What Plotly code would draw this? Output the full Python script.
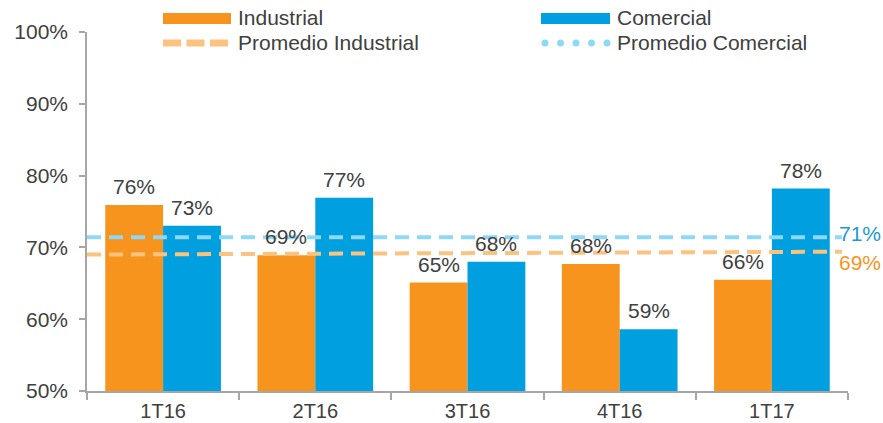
import plotly.graph_objects as go

# Quarterly values (%)
categorias = ["1T16", "2T16", "3T16", "4T16", "1T17"]
industrial = [75.9, 68.9, 65.1, 67.7, 65.5]
comercial = [73.0, 76.9, 68.0, 58.6, 78.2]

# Average reference lines (start / end of the period span)
promedio_x = [-0.5, 4.46]
promedio_industrial = [69.0, 69.4]
promedio_comercial = [71.4, 71.4]

y_ticks = [50, 60, 70, 80, 90, 100]

NARANJA = "#F7941D"
AZUL = "#009FDF"
NARANJA_CLARO = "#FCC27F"
AZUL_CLARO = "#8FD8F8"
TEXTO = "#404040"
EJE = "#A6A6A6"
FUENTE = "Liberation Sans, Arial, sans-serif"
TAM = 21

W, H = 883, 423
ML, MR, MT, MB = 87, 35, 32, 32
PW, PH = W - ML - MR, H - MT - MB


def px(x):
    return (x - ML) / PW


def py(y):
    return (H - MB - y) / PH


xs = list(range(len(categorias)))
desfase = 0.19  # half a bar width in category units

fig = go.Figure()
fig.add_trace(go.Bar(x=xs, y=industrial, name="Industrial",
                     marker_color=NARANJA, marker_line_width=0))
fig.add_trace(go.Bar(x=xs, y=comercial, name="Comercial",
                     marker_color=AZUL, marker_line_width=0))

# Value labels above each bar
for serie, signo in [(industrial, -1), (comercial, 1)]:
    for x, v in zip(xs, serie):
        fig.add_annotation(x=x + signo * desfase, y=v, text=f"{v:.0f}%",
                           showarrow=False, xanchor="center", yanchor="bottom",
                           yshift=5, font=dict(size=TAM, color=TEXTO, family=FUENTE))

fig.add_trace(go.Scatter(
    x=promedio_x, y=promedio_comercial, mode="lines", name="Promedio Comercial",
    line=dict(color=AZUL_CLARO, width=4, dash="14px,8px"), cliponaxis=False,
))
fig.add_trace(go.Scatter(
    x=promedio_x, y=promedio_industrial, mode="lines", name="Promedio Industrial",
    line=dict(color=NARANJA_CLARO, width=4, dash="14px,8px"), cliponaxis=False,
))

# End-of-line average labels
fig.add_annotation(x=promedio_x[-1], y=promedio_comercial[-1],
                   text=f"{promedio_comercial[-1]:.0f}%", showarrow=False,
                   xanchor="left", yanchor="middle", xshift=-5, yshift=4,
                   font=dict(size=TAM, color="#1A9AD6", family=FUENTE))
fig.add_annotation(x=promedio_x[-1], y=promedio_industrial[-1],
                   text=f"{promedio_industrial[-1]:.0f}%", showarrow=False,
                   xanchor="left", yanchor="middle", xshift=-5, yshift=-11,
                   font=dict(size=TAM, color=NARANJA, family=FUENTE))

# Legend drawn above the plot area
shapes = []
shapes.append(dict(type="rect", xref="paper", yref="paper",
                   x0=px(163), x1=px(231), y0=py(24), y1=py(13),
                   fillcolor=NARANJA, line_width=0))
shapes.append(dict(type="rect", xref="paper", yref="paper",
                   x0=px(541), x1=px(610), y0=py(24), y1=py(13),
                   fillcolor=AZUL, line_width=0))
for i in range(3):
    x0 = 163 + i * 23.5
    shapes.append(dict(type="rect", xref="paper", yref="paper",
                       x0=px(x0), x1=px(x0 + 18), y0=py(46.5), y1=py(39.5),
                       fillcolor=NARANJA_CLARO, line_width=0))
for i in range(5):
    cx = 545 + i * 15.5
    shapes.append(dict(type="circle", xref="paper", yref="paper",
                       x0=px(cx - 3.5), x1=px(cx + 3.5), y0=py(46.5), y1=py(39.5),
                       fillcolor=AZUL_CLARO, line_width=0))
fig.update_layout(shapes=shapes)

for texto, x, y in [("Industrial", 236, 18), ("Comercial", 615, 18),
                    ("Promedio Industrial", 236, 42), ("Promedio Comercial", 615, 42)]:
    fig.add_annotation(xref="paper", yref="paper", x=px(x), y=py(y), text=texto,
                       showarrow=False, xanchor="left", yanchor="middle",
                       font=dict(size=TAM, color=TEXTO, family=FUENTE))

fig.update_layout(
    width=W, height=H,
    margin=dict(l=ML, r=MR, t=MT, b=MB, autoexpand=False),
    paper_bgcolor="white", plot_bgcolor="white",
    barmode="group", bargap=0.24, bargroupgap=0,
    showlegend=False,
    font=dict(family=FUENTE, size=TAM, color=TEXTO),
)
fig.update_xaxes(
    range=[-0.5, 4.5], tickvals=xs, ticktext=categorias, ticks="",
    showline=True, linecolor=EJE, linewidth=1.5, showgrid=False, zeroline=False,
    ticklabelstandoff=1, automargin=False,
    minor=dict(tickvals=[i - 0.5 for i in range(len(categorias) + 1)],
               ticks="outside", ticklen=7, tickcolor=EJE, tickwidth=1.5, showgrid=False),
    tickfont=dict(size=20, color=TEXTO),
)
fig.update_yaxes(
    range=[50, 100], tickvals=y_ticks, ticktext=[f"{v}%" for v in y_ticks],
    ticks="outside", ticklen=6, tickcolor=EJE, tickwidth=1.5,
    showline=True, linecolor=EJE, linewidth=1.5, showgrid=False, zeroline=False,
    ticklabelstandoff=7, automargin=False,
    tickfont=dict(size=TAM, color=TEXTO),
)

fig.write_html("out.html")
